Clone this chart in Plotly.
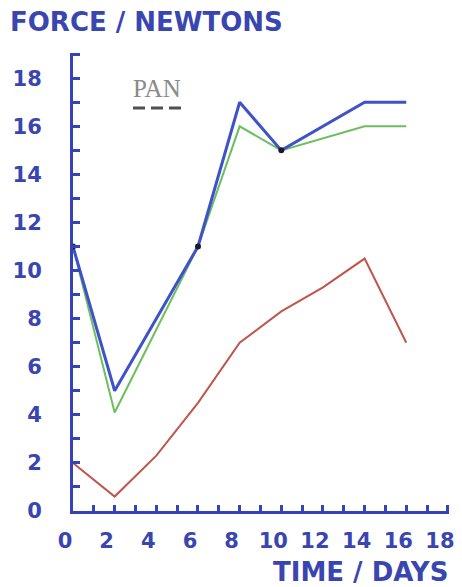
import plotly.graph_objects as go

# ---- data ----
days_main = [0, 2, 6, 8, 10, 14, 16]
blue_force = [11, 5, 11, 17, 15, 17, 17]
green_force = [11, 4.1, 11, 16, 15, 16, 16]
days_red = [0, 2, 4, 6, 8, 10, 12, 14, 16]
red_force = [2, 0.6, 2.3, 4.5, 7.0, 8.3, 9.3, 10.5, 7.0]
pan_days = [0, 6, 10]
pan_force = [11, 11, 15]
x_tick_vals = [0, 2, 4, 6, 8, 10, 12, 14, 16, 18]
x_tick_text = ["0", "2", "4", "6", "8", "10", "12", "14", "16", "18"]
y_tick_vals = [0, 2, 4, 6, 8, 10, 12, 14, 16, 18]
y_tick_text = ["0", "2", "4", "6", "8", "10", "12", "14", "16", "18"]

AXIS = "#3444b8"
TEXT = "#3a46b0"
BLUE = "#3f52c8"
GREEN = "#6cbf5c"
RED = "#c0554c"

# page body has an 8px margin; compensate so the plot lands where the reference has it
OFF = 8
W, H = 462 - OFF, 587 - OFF
ML, MR, MT, MB = 73 - OFF, 13, 53 - OFF, 76
PW, PH = W - ML - MR, H - MT - MB

fig = go.Figure()
fig.add_trace(go.Scatter(x=days_red, y=red_force, mode="lines",
                         line=dict(color=RED, width=2), showlegend=False))
fig.add_trace(go.Scatter(x=days_main, y=green_force, mode="lines",
                         line=dict(color=GREEN, width=2), showlegend=False))
fig.add_trace(go.Scatter(x=days_main, y=blue_force, mode="lines",
                         line=dict(color=BLUE, width=3), showlegend=False))
fig.add_trace(go.Scatter(x=pan_days, y=pan_force, mode="markers",
                         marker=dict(color="#1a1a2a", size=6), showlegend=False))

tfont = dict(family="DejaVu Sans", size=21, color=TEXT, weight="bold")

fig.update_xaxes(range=[0, 18.05], showgrid=False, zeroline=False, automargin=False,
                 showline=True, linecolor=AXIS, linewidth=3,
                 tickmode="array", tickvals=x_tick_vals, ticktext=x_tick_text,
                 ticks="inside", ticklen=6, tickwidth=3, tickcolor=AXIS,
                 minor=dict(dtick=1, ticks="inside", ticklen=6, tickwidth=3, tickcolor=AXIS),
                 tickfont=tfont, ticklabelstandoff=9, ticklabelshift=-8,
                 ticklabeloverflow="allow")
fig.update_yaxes(range=[0, 19.05], showgrid=False, zeroline=False, automargin=False,
                 showline=True, linecolor=AXIS, linewidth=3,
                 tickmode="array", tickvals=y_tick_vals, ticktext=y_tick_text,
                 ticks="inside", ticklen=7, tickwidth=3, tickcolor=AXIS,
                 minor=dict(dtick=1, ticks="inside", ticklen=7, tickwidth=3, tickcolor=AXIS),
                 tickfont=tfont, ticklabelstandoff=24, ticklabeloverflow="allow")

fig.update_layout(
    width=W, height=H,
    margin=dict(l=ML, r=MR, t=MT, b=MB, autoexpand=False),
    paper_bgcolor="white", plot_bgcolor="white",
    title=dict(text="FORCE / NEWTONS", x=(10 - OFF) / W, xanchor="left",
               y=1 - (22 - OFF) / H, yanchor="middle",
               font=dict(family="DejaVu Sans", size=26, color=TEXT, weight="bold")),
)

fig.add_annotation(text="TIME / DAYS", xref="paper", yref="paper", x=1, y=0,
                   xanchor="right", yanchor="middle", yshift=-61, xshift=1,
                   showarrow=False,
                   font=dict(family="DejaVu Sans", size=26, color=TEXT, weight="bold"))

# legend "PAN" with dashed sample below
fig.add_annotation(text="PAN", xref="paper", yref="paper",
                   x=(131 - 73) / PW, y=(511 - 89) / PH,
                   xanchor="left", yanchor="middle", showarrow=False,
                   font=dict(family="Liberation Serif", size=25, color="#8a8a8a"))
fig.add_shape(type="line", xref="paper", yref="paper",
              x0=(133 - 73) / PW, x1=(182 - 73) / PW,
              y0=(511 - 108) / PH, y1=(511 - 108) / PH,
              line=dict(color="#505050", width=3, dash="12px,6px"))

fig.write_html("out.html")
